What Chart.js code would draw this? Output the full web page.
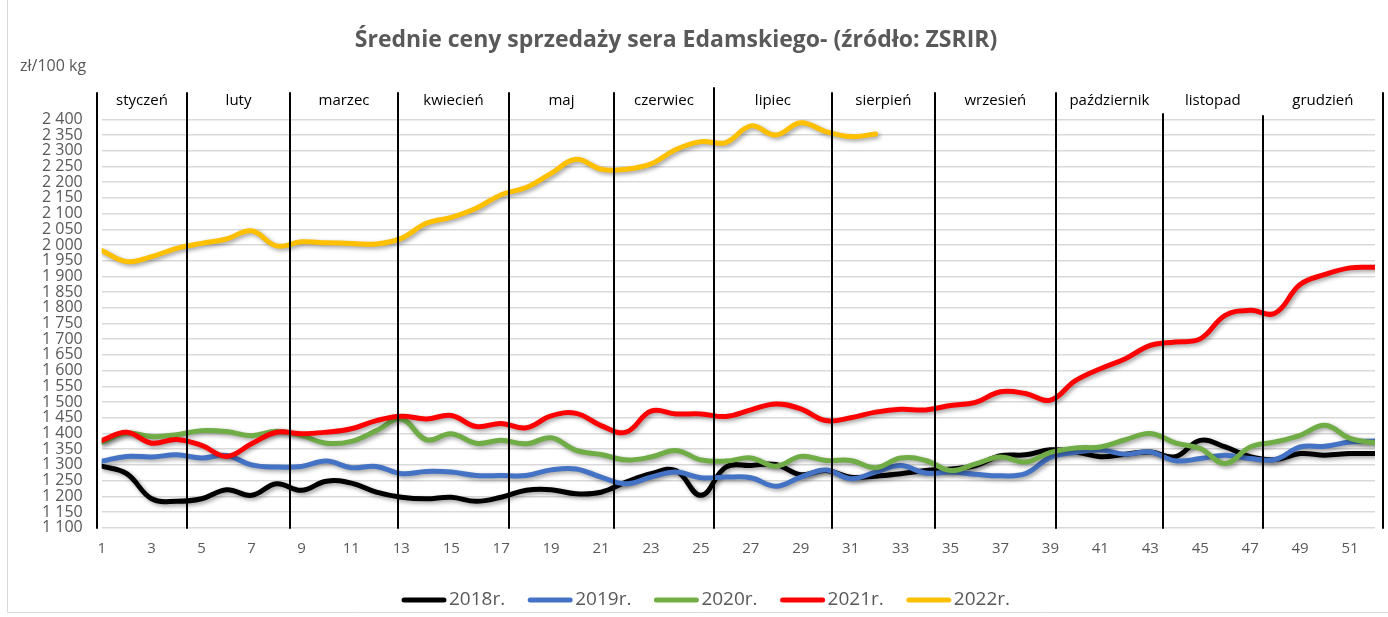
<!DOCTYPE html>
<html><head><meta charset="utf-8">
<script src="https://cdn.jsdelivr.net/npm/chart.js@4.4.1/dist/chart.umd.min.js"></script>
<style>html,body{margin:0;padding:0;background:#fff;}#wrap{width:1388px;height:617px;position:relative;}</style>
</head><body><div id="wrap"><canvas id="c" width="1388" height="617"></canvas></div>
<script>
const weeks = [1,2,3,4,5,6,7,8,9,10,11,12,13,14,15,16,17,18,19,20,21,22,23,24,25,26,27,28,29,30,31,32,33,34,35,36,37,38,39,40,41,42,43,44,45,46,47,48,49,50,51,52];
const xTickWeeks = [1,3,5,7,9,11,13,15,17,19,21,23,25,27,29,31,33,35,37,39,41,43,45,47,49,51];
const yTickValues = [1100,1150,1200,1250,1300,1350,1400,1450,1500,1550,1600,1650,1700,1750,1800,1850,1900,1950,2000,2050,2100,2150,2200,2250,2300,2350,2400];
const seriesNames = ['2018r.','2019r.','2020r.','2021r.','2022r.'];
const s2018 = [1296,1272,1192,1184,1192,1221,1203,1240,1219,1248,1242,1213,1197,1192,1197,1184,1197,1219,1221,1208,1213,1245,1272,1282,1203,1293,1298,1301,1269,1282,1261,1264,1272,1282,1287,1298,1329,1332,1348,1342,1326,1334,1341,1326,1378,1357,1326,1317,1336,1331,1336,1336];
const s2019 = [1312,1327,1325,1332,1322,1330,1300,1293,1295,1312,1291,1295,1272,1279,1277,1266,1266,1266,1284,1287,1261,1240,1261,1277,1259,1261,1259,1232,1261,1284,1256,1277,1298,1274,1277,1270,1265,1272,1324,1340,1347,1334,1341,1313,1320,1331,1320,1317,1357,1359,1373,1376];
const s2020 = [1372,1401,1390,1396,1409,1406,1393,1407,1393,1369,1375,1409,1446,1380,1399,1369,1378,1367,1386,1346,1333,1316,1325,1346,1316,1312,1322,1296,1327,1314,1314,1291,1322,1314,1282,1303,1325,1309,1340,1354,1357,1380,1400,1370,1352,1304,1357,1373,1394,1426,1384,1370];
const s2021 = [1378,1404,1369,1381,1362,1327,1367,1404,1399,1404,1415,1441,1455,1446,1457,1422,1432,1418,1456,1464,1425,1404,1471,1462,1462,1454,1475,1494,1478,1441,1450,1468,1477,1475,1489,1499,1533,1527,1506,1568,1606,1638,1680,1691,1701,1776,1792,1783,1874,1906,1927,1929];
const s2022 = [1982,1947,1963,1989,2005,2019,2045,1997,2010,2007,2005,2003,2021,2069,2088,2117,2160,2183,2228,2273,2241,2241,2258,2304,2329,2326,2379,2350,2389,2361,2345,2353];
const months = ['styczeń','luty','marzec','kwiecień','maj','czerwiec','lipiec','sierpień','wrzesień','październik','listopad','grudzień'];
const monthBounds = [0.81,4.42,8.54,12.87,17.31,21.52,25.52,30.25,34.37,39.22,43.50,47.51,52.31];

const series = [s2018,s2019,s2020,s2021,s2022];
const colors = ['#000000','#4472C4','#70AD47','#FF0000','#FFC000'];
const FONT = "'Open Sans', 'Noto Sans', sans-serif";
const GREY = '#595959';
const fmt = v => String(v).replace(/\B(?=(\d{3})+(?!\d))/g,' ');

const shadowPlugin = {
  id:'shadow',
  beforeDatasetDraw(chart){ const c=chart.ctx; c.save(); c.shadowColor='rgba(0,0,0,0.38)'; c.shadowBlur=4; c.shadowOffsetX=2; c.shadowOffsetY=2; },
  afterDatasetDraw(chart){ chart.ctx.restore(); }
};

const decor = {
  id:'decor',
  beforeDraw(chart){
    const c=chart.ctx; c.save();
    c.fillStyle='#fff'; c.fillRect(0,0,chart.width,chart.height);
    c.strokeStyle='#d9d9d9'; c.lineWidth=1;
    c.beginPath(); c.moveTo(7.5,0); c.lineTo(7.5,612.5); c.lineTo(chart.width,612.5); c.stroke();
    c.restore();
  },
  afterDatasetsDraw(chart){
    const c=chart.ctx, a=chart.chartArea, x=chart.scales.x;
    c.save();
    c.strokeStyle='#000'; c.lineWidth=2;
    monthBounds.forEach((w,i)=>{
      const px=Math.round(x.getPixelForValue(w));
      let top=a.top-27;
      if(i===10) top=a.top-6;
      if(i===11) top=a.top-4;
      if(i===6) top=a.top-32;
      c.beginPath(); c.moveTo(px,top); c.lineTo(px,a.bottom+1); c.stroke();
    });
    c.fillStyle='#000'; c.font='15px '+FONT; c.textAlign='center'; c.textBaseline='middle';
    months.forEach((m,i)=>{
      const cx=(x.getPixelForValue(monthBounds[i])+x.getPixelForValue(monthBounds[i+1]))/2;
      c.fillText(m,cx,a.top-19);
    });
    c.restore();
  },
  afterDraw(chart){
    const c=chart.ctx; c.save();
    c.fillStyle=GREY; c.textBaseline='middle';
    c.font='bold 23px '+FONT; c.textAlign='center';
    c.fillText('Średnie ceny sprzedaży sera Edamskiego- (źródło: ZSRIR)',676,40);
    c.font='16px '+FONT; c.textAlign='left';
    c.fillText('zł/100 kg',20,66);
    // legend
    c.font='19px '+FONT;
    const sw=44, gap=3, sp=23;
    const widths=seriesNames.map(n=>c.measureText(n).width);
    let total=0; widths.forEach((w,i)=>{ total+=sw+gap+w+(i<widths.length-1?sp:0); });
    let lx=706-total/2; const ly=600;
    seriesNames.forEach((n,i)=>{
      c.strokeStyle=colors[i]; c.lineWidth=5; c.lineCap='round';
      c.beginPath(); c.moveTo(lx+2,ly); c.lineTo(lx+sw-2,ly); c.stroke();
      c.fillStyle=GREY; c.fillText(n,lx+sw+gap,ly);
      lx+=sw+gap+widths[i]+sp;
    });
    c.restore();
  }
};

new Chart(document.getElementById('c'),{
  type:'line',
  data:{ datasets: series.map((s,i)=>({
    label:seriesNames[i],
    data:s.map((v,j)=>({x:weeks[j],y:v})),
    borderColor:colors[i], backgroundColor:colors[i],
    borderWidth:5, pointRadius:0, pointHoverRadius:0, tension:0.4, fill:false,
    order:4-i, borderCapStyle:'round', borderJoinStyle:'round'
  }))},
  options:{
    responsive:false, animation:false, events:[],
    layout:{padding:{left:0,right:13,top:119.3,bottom:49.3}},
    plugins:{legend:{display:false},title:{display:false},tooltip:{enabled:false}},
    scales:{
      x:{type:'linear',min:1,max:52,
        grid:{display:false,drawTicks:false}, border:{display:false},
        afterBuildTicks(s){ s.ticks=xTickWeeks.map(v=>({value:v})); },
        ticks:{autoSkip:false,maxRotation:0,padding:12,color:GREY,font:{family:FONT,size:15}},
        afterFit(s){ s.height=40; }
      },
      y:{min:1100,max:2400,
        afterBuildTicks(s){ s.ticks=yTickValues.map(v=>({value:v})); },
        ticks:{autoSkip:false,padding:19,color:GREY,font:{family:FONT,size:16},callback:v=>fmt(v)},
        grid:{color:'#d9d9d9',lineWidth:1.5,drawTicks:false}, border:{display:false},
        afterFit(s){ s.width=101.7; }
      }
    }
  },
  plugins:[shadowPlugin,decor]
});
</script></body></html>
